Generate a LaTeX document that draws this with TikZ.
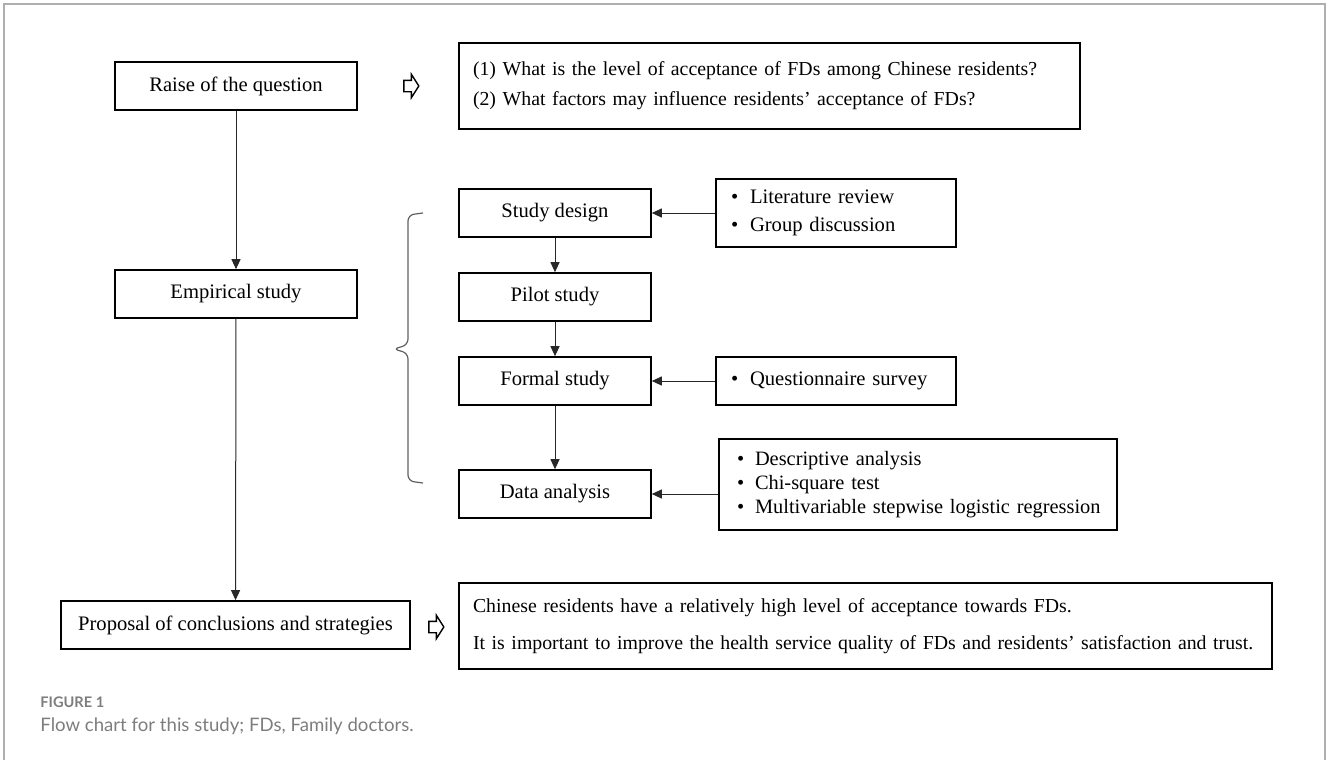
\documentclass[tikz,border=0pt]{standalone}
\usepackage{fontspec}
\setmainfont{Liberation Serif}
\newfontfamily\capfont{Lato}
\usetikzlibrary{arrows.meta,shapes.arrows}
\definecolor{framegray}{RGB}{175,175,175}
\definecolor{capgray}{RGB}{125,125,125}
\definecolor{bracegray}{RGB}{95,95,95}
\definecolor{linkgray}{RGB}{40,40,40}
\newcommand\bulletitem[2][9.5pt]{\mbox{\makebox[#1][l]{\textbullet}#2}}
\tikzset{
  box/.style={draw, line width=0.8pt, minimum height=24pt, inner sep=0pt, font=\fontsize{10.3}{12}\selectfont},
  listbox/.style={box, align=left, inner xsep=7pt},
  link/.style={draw=linkgray, line width=0.5pt, -{Triangle[length=5pt,width=4.5pt]}},
  hollow/.style={single arrow, draw, line width=0.7pt, inner xsep=0pt, inner ysep=2.5pt,
    single arrow head extend=3pt, single arrow tip angle=115, minimum height=7.5pt},
  caption/.style={anchor=base west, inner sep=0pt, text=capgray}
}

\begin{document}
\begin{tikzpicture}[x=0.5pt,y=-0.5pt]
\useasboundingbox (0,0) rectangle (1328,760);
\draw[framegray, line width=1pt] (4,770) -- (4,4) -- (1325,4) -- (1325,770);

% main steps
\node[box, minimum width=121pt]   (raise)     at (236,86)  {Raise of the question};
\node[box, minimum width=121pt]   (empirical) at (236,294) {Empirical study};
\node[box, minimum width=174.5pt] (proposal)  at (235.5,625) {Proposal of conclusions and strategies};

% empirical study steps
\node[box, minimum width=96pt] (design)   at (555,213) {Study design};
\node[box, minimum width=96pt] (pilot)    at (555,297) {Pilot study};
\node[box, minimum width=96pt] (formal)   at (555,381) {Formal study};
\node[box, minimum width=96pt] (analysis) at (555,494) {Data analysis};

% right hand boxes
\node[listbox, text width=296.5pt, minimum height=43pt, font=\fontsize{9.9}{15}\selectfont] (question) at (769.5,86)
  {\mbox{(1) What is the level of acceptance of FDs among Chinese residents?}\\
   \mbox{(2) What factors may influence residents’ acceptance of FDs?}};
\node[listbox, inner xsep=7.5pt, text width=105pt, minimum height=34pt, font=\fontsize{10.3}{14}\selectfont] (review) at (836,213)
  {\bulletitem{Literature review}\\
   \bulletitem{Group discussion}};
\node[listbox, inner xsep=7.5pt, text width=105pt] (survey) at (836,381)
  {\bulletitem{Questionnaire survey}};
\node[listbox, inner xsep=9pt, text width=181pt, minimum height=45.5pt, font=\fontsize{10.2}{12}\selectfont] (methods) at (918,484.5)
  {\bulletitem[9pt]{Descriptive analysis}\\
   \bulletitem[9pt]{Chi-square test}\\
   \bulletitem[9pt]{Multivariable stepwise logistic regression}};
\node[listbox, text width=392.5pt, minimum height=43pt, font=\fontsize{9.9}{18.5}\selectfont] (conclusion) at (865.5,626)
  {\mbox{Chinese residents have a relatively high level of acceptance towards FDs.}\\
   \mbox{It is important to improve the health service quality of FDs and residents’ satisfaction and trust.}};

% hollow arrows
\node[hollow] (qarrow) at (409.5,86) {};
\node[hollow] (parrow) at (434.5,627) {};

% connectors
\draw[link] (raise) -- (empirical);
\draw[link] (empirical) -- (proposal);
\draw[link] (design) -- (pilot);
\draw[link] (pilot) -- (formal);
\draw[link] (formal) -- (analysis);
\draw[link] (review) -- (design);
\draw[link] (survey) -- (formal);
\draw[link] (methods.west |- analysis) -- (analysis);

% brace
\draw[bracegray, line width=0.6pt, rounded corners=3pt]
  (423,213) -- (408,215) -- (408,345) -- (393,349) -- (408,353) -- (408,481) -- (423,483);

% caption
\node[caption, font=\capfont\bfseries\fontsize{7.3}{9}\selectfont] (figlabel) at (40,707) {FIGURE 1};
\node[caption, font=\capfont\fontsize{9.3}{11}\selectfont] (figtext) at (40,731) {Flow chart for this study; FDs, Family doctors.};
\end{tikzpicture}
\end{document}
